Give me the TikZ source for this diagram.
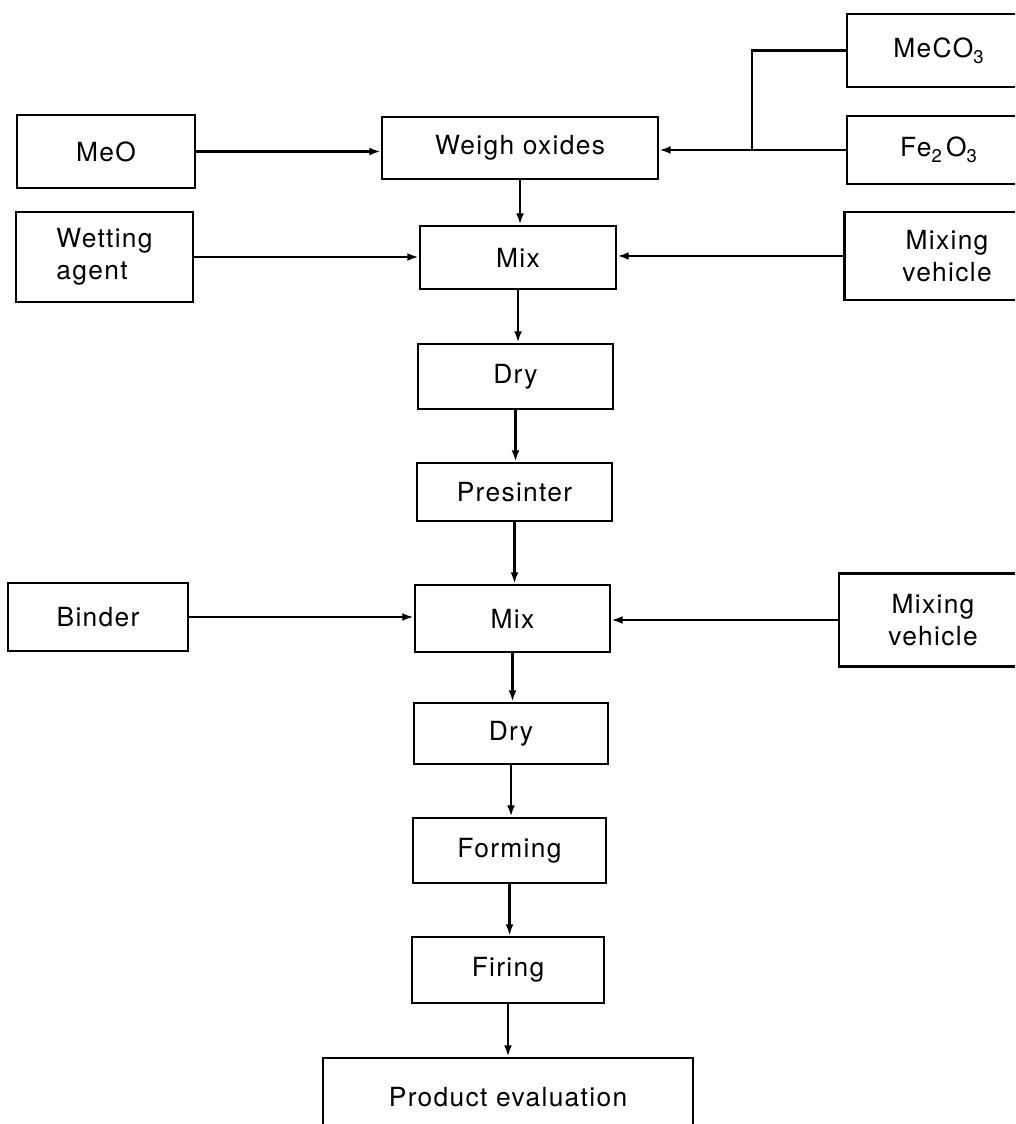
\documentclass[tikz,border=0pt]{standalone}
\usepackage{fontspec}
\setmainfont{TeX Gyre Heros}[LetterSpace=5]
\usetikzlibrary{arrows.meta}
\newcommand\lowsub[1]{\raisebox{-0.45ex}{\fontsize{10.5}{10.5}\selectfont #1}}
\begin{document}
\begin{tikzpicture}[x=0.02cm,y=-0.02cm,
  box/.style={draw,line width=1.5pt,inner sep=0pt,font=\fontsize{15}{18}\selectfont,align=center},
  arr/.style={line width=1.5pt,-{Latex[length=6.5pt,width=4.5pt]}},
  ln/.style={line width=1.5pt}]
\useasboundingbox (0,0) rectangle (1015,1124);
\clip (0,0) rectangle (1015,1124);
\node[box,minimum width=3.66cm,minimum height=1.46cm] (meco3) at (938.5,50.5) {MeCO\lowsub{3}};
\node[box,minimum width=3.66cm,minimum height=1.36cm] (fe2o3) at (938.5,150) {Fe\lowsub{2}\,O\lowsub{3}};
\node[box,minimum width=3.56cm,minimum height=1.46cm] (meo) at (106,151.5) {MeO};
\node[box,minimum width=5.52cm,minimum height=1.24cm] (weigh) at (520,148) {Weigh oxides};
\node[box,minimum width=3.54cm,minimum height=1.80cm,align=left] (wet) at (104.5,257) {Wetting\\agent};
\node[box,minimum width=3.92cm,minimum height=1.26cm] (mix1) at (518,257.5) {Mix};
\node[box,minimum width=4.10cm,minimum height=1.76cm] (mv1) at (947,256) {Mixing\\vehicle};
\node[box,minimum width=3.90cm,minimum height=1.30cm] (dry1) at (515.5,376.5) {Dry};
\node[box,minimum width=3.90cm,minimum height=1.16cm] (pre) at (514.5,492) {Presinter};
\node[box,minimum width=3.60cm,minimum height=1.36cm] (binder) at (98,617) {Binder};
\node[box,minimum width=3.90cm,minimum height=1.34cm] (mix2) at (512.5,618.5) {Mix};
\node[box,minimum width=3.76cm,minimum height=1.86cm] (mv2) at (933,620) {Mixing\\vehicle};
\node[box,minimum width=3.88cm,minimum height=1.22cm] (dry2) at (511,733.5) {Dry};
\node[box,minimum width=3.86cm,minimum height=1.30cm] (form) at (509.5,850.5) {Forming};
\node[box,minimum width=3.84cm,minimum height=1.32cm] (fire) at (508,970) {Firing};
\node[box,minimum width=7.40cm,minimum height=1.56cm] (prod) at (508,1097) {Product evaluation};
\coordinate (j) at (752,150);
% inputs
\draw[arr] (meo.east) -- (meo.east -| weigh.west);
\draw[arr] (fe2o3.west) -- (fe2o3.west -| weigh.east);
\draw[ln] (meco3.west) -| (j);
\draw[arr] (wet.east) -- (wet.east -| mix1.west);
\draw[arr] (mv1.west) -- (mv1.west -| mix1.east);
\draw[arr] (binder.east) -- (binder.east -| mix2.west);
\draw[arr] (mv2.west) -- (mv2.west -| mix2.east);
% main column
\draw[arr] (weigh.south) -- (weigh.south |- mix1.north);
\draw[arr] (mix1.south) -- (mix1.south |- dry1.north);
\draw[arr] (dry1.south) -- (dry1.south |- pre.north);
\draw[arr] (pre.south) -- (pre.south |- mix2.north);
\draw[arr] (mix2.south) -- (mix2.south |- dry2.north);
\draw[arr] (dry2.south) -- (dry2.south |- form.north);
\draw[arr] (form.south) -- (form.south |- fire.north);
\draw[arr] (fire.south) -- (fire.south |- prod.north);
\end{tikzpicture}
\end{document}
